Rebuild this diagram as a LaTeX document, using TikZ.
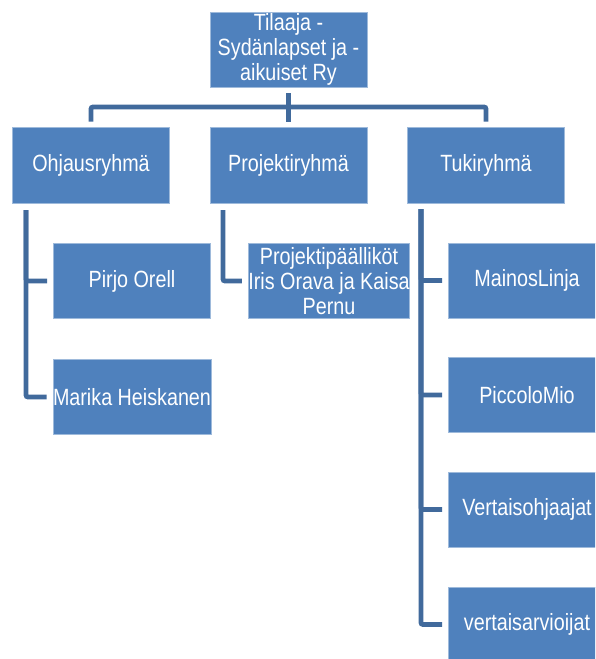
\documentclass[tikz,border=0pt]{standalone}
\usepackage{fontspec}
\setmainfont{Liberation Sans}[FakeStretch=0.84]

\definecolor{boxblue}{RGB}{79,129,189}
\definecolor{linkblue}{RGB}{65,106,156}

\tikzset{every picture/.style={line width=0.75pt}}
\tikzset{
  orgbox/.style={rectangle, fill=boxblue, draw=boxblue!55!white, line width=0.8pt,
    minimum width=157pt, minimum height=75pt, inner sep=0pt, text=white, align=center,
    font=\fontsize{23.5}{25}\selectfont},
  link/.style={draw=linkblue, line width=4.8pt, rounded corners=2pt}
}

\begin{document}
\begin{tikzpicture}[x=1pt,y=1pt,yscale=-1,xscale=1]
\useasboundingbox (0,0) rectangle (595,659);
\clip (0,0) rectangle (595,659);

% Boxes
\node [orgbox] (tilaaja) at (288.5,49.5) {Tilaaja -\\Sydänlapset ja -\\aikuiset Ry};
\node [orgbox, minimum height=76pt] (ohjaus) at (91,165) {Ohjausryhmä};
\node [orgbox, minimum height=76pt] (projekti) at (288.5,165) {Projektiryhmä};
\node [orgbox, minimum height=76pt] (tuki) at (486,165) {Tukiryhmä};
\node [orgbox] (pirjo) at (132,281) {Pirjo Orell};
\node [orgbox] (marika) at (132,397) {Marika Heiskanen};
\node [orgbox] (johtajat) at (329,281) {Projektipäälliköt\\Iris Orava ja Kaisa\\Pernu};
\node [orgbox] (mainos) at (527,280.5) {MainosLinja};
\node [orgbox] (piccolo) at (527,395) {PiccoloMio};
\node [orgbox] (ohjaajat) at (527,509.5) {Vertaisohjaajat};
\node [orgbox] (arvioijat) at (527,624.5) {vertaisarvioijat};

% Trunk points
\coordinate (bus) at (288.5,107);
\coordinate (ohjtrunk) at (26,210);
\coordinate (projtrunk) at (223,210);
\coordinate (tukitrunk) at (421,209);

%Straight Lines
\draw [link, shorten <=6pt] (tilaaja.south) -- (bus);
\draw [link, shorten >=5pt] (bus) -| (ohjaus.north);
\draw [link, shorten >=5pt] (bus) -- (projekti.north);
\draw [link, shorten >=5pt] (bus) -| (tuki.north);

%Straight Lines
\draw [link, shorten >=6pt] (ohjtrunk) |- (pirjo.west);
\draw [link, shorten >=6pt] (ohjtrunk) |- (marika.west);
\draw [link, shorten >=6pt] (projtrunk) |- (johtajat.west);
\draw [link, shorten >=6pt] (tukitrunk) |- (mainos.west);
\draw [link, shorten >=6pt] (tukitrunk) |- (piccolo.west);
\draw [link, shorten >=6pt] (tukitrunk) |- (ohjaajat.west);
\draw [link, shorten >=6pt] (tukitrunk) |- (arvioijat.west);

\end{tikzpicture}
\end{document}
